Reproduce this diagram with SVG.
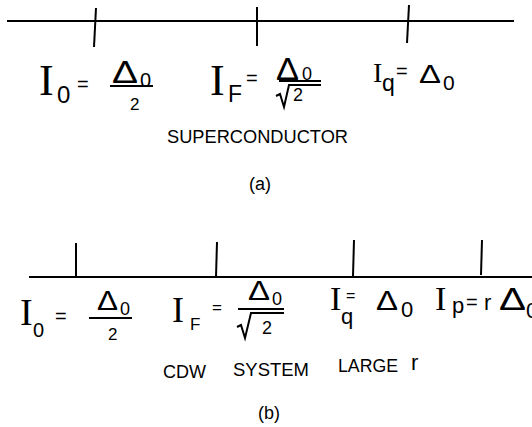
<svg xmlns="http://www.w3.org/2000/svg" width="532" height="427" viewBox="0 0 532 427">
<style>
.ln{stroke:#000;stroke-width:2;fill:none;stroke-linecap:butt}
.sf{font-family:"Liberation Serif","Times New Roman",serif;fill:#000}
.ss{font-family:"Liberation Sans",Arial,sans-serif;fill:#000}
.lb{font-family:"Liberation Sans",Arial,sans-serif;font-size:18px;fill:#000}
</style>
<rect width="532" height="427" fill="#fff"/>
<g id="axis-a">
<line class="ln" x1="7" y1="21" x2="514" y2="21"/>
<line class="ln" x1="96" y1="8" x2="94" y2="47"/>
<line class="ln" x1="257" y1="7" x2="257" y2="46"/>
<line class="ln" x1="409" y1="5" x2="407" y2="43"/>
</g>
<g id="a-I0">
<text class="sf" x="39" y="95" font-size="44">I</text>
<text class="ss" x="57" y="103" font-size="24">0</text>
<text class="ss" x="77" y="91" font-size="20">=</text>
<text class="ss" x="112" y="83" font-size="32" textLength="26" lengthAdjust="spacingAndGlyphs">Δ</text>
<text class="ss" x="140" y="87" font-size="20">0</text>
<line class="ln" x1="110" y1="86" x2="153" y2="86"/>
<text class="ss" x="130" y="110" font-size="17">2</text>
</g>
<g id="a-IF">
<text class="sf" x="210" y="95" font-size="44">I</text>
<text class="ss" x="228" y="102" font-size="23">F</text>
<text class="ss" x="246" y="85" font-size="20">=</text>
<text class="ss" x="276" y="80" font-size="31" textLength="23" lengthAdjust="spacingAndGlyphs">Δ</text>
<text class="ss" x="302" y="80" font-size="18">0</text>
<line class="ln" x1="279" y1="81" x2="321" y2="81"/>
<path class="ln" d="M276,96 L280,94 L284,107 L289,85 L321,85" stroke-width="1.6"/>
<text class="ss" x="293" y="101" font-size="18">2</text>
</g>
<g id="a-Iq">
<text class="sf" x="373" y="82" font-size="28">I</text>
<text class="ss" x="382" y="91" font-size="23">q</text>
<text class="ss" x="396" y="78" font-size="20">=</text>
<text class="ss" x="419" y="83" font-size="25" textLength="22" lengthAdjust="spacingAndGlyphs">Δ</text>
<text class="ss" x="443" y="90" font-size="21">0</text>
</g>
<g id="a-labels">
<text class="lb" x="167" y="143" textLength="181" lengthAdjust="spacingAndGlyphs">SUPERCONDUCTOR</text>
<text class="lb" x="249" y="190">(a)</text>
</g>
<g id="axis-b">
<line class="ln" x1="29" y1="277" x2="532" y2="277"/>
<line class="ln" x1="76" y1="243" x2="76" y2="277"/>
<line class="ln" x1="217" y1="242" x2="216" y2="277"/>
<line class="ln" x1="354" y1="240" x2="353" y2="276"/>
<line class="ln" x1="482" y1="240" x2="481" y2="275"/>
</g>
<g id="b-I0">
<text class="sf" x="20" y="325" font-size="38">I</text>
<text class="ss" x="33" y="337" font-size="20">0</text>
<text class="ss" x="55" y="323" font-size="20">=</text>
<text class="ss" x="97" y="310" font-size="28" textLength="21" lengthAdjust="spacingAndGlyphs">Δ</text>
<text class="ss" x="120" y="315" font-size="18">0</text>
<line class="ln" x1="89" y1="318" x2="132" y2="318"/>
<text class="ss" x="108" y="340" font-size="17">2</text>
</g>
<g id="b-IF">
<text class="sf" x="172" y="322" font-size="36">I</text>
<text class="ss" x="190" y="330" font-size="17">F</text>
<text class="ss" x="212" y="313" font-size="17">=</text>
<text class="ss" x="248" y="300" font-size="28" textLength="22" lengthAdjust="spacingAndGlyphs">Δ</text>
<text class="ss" x="272" y="305" font-size="18">0</text>
<line class="ln" x1="238" y1="309" x2="284" y2="309"/>
<path class="ln" d="M237,327 L241,325 L245,338 L251,313 L284,313" stroke-width="1.6"/>
<text class="ss" x="262" y="334" font-size="18">2</text>
</g>
<g id="b-Iq">
<text class="sf" x="330" y="310" font-size="34">I</text>
<text class="ss" x="341" y="324" font-size="22">q</text>
<text class="ss" x="346" y="301" font-size="16">=</text>
<text class="ss" x="376" y="310" font-size="28" textLength="22" lengthAdjust="spacingAndGlyphs">Δ</text>
<text class="ss" x="401" y="317" font-size="22">0</text>
</g>
<g id="b-Ip">
<text class="sf" x="435" y="310" font-size="34">I</text>
<text class="ss" x="452" y="313" font-size="22">p</text>
<text class="ss" x="466" y="309" font-size="20">=</text>
<text class="ss" x="484" y="310" font-size="22">r</text>
<text class="ss" x="499" y="310" font-size="32" textLength="27" lengthAdjust="spacingAndGlyphs">Δ</text>
<text class="ss" x="526" y="318" font-size="22">0</text>
</g>
<g id="b-labels">
<text class="lb" x="163" y="378">CDW</text>
<text class="lb" x="233" y="376" textLength="76" lengthAdjust="spacingAndGlyphs">SYSTEM</text>
<text class="lb" x="338" y="372" textLength="60" lengthAdjust="spacingAndGlyphs">LARGE</text>
<text class="ss" x="411" y="370" font-size="22">r</text>
<text class="lb" x="258" y="419">(b)</text>
</g>
</svg>
